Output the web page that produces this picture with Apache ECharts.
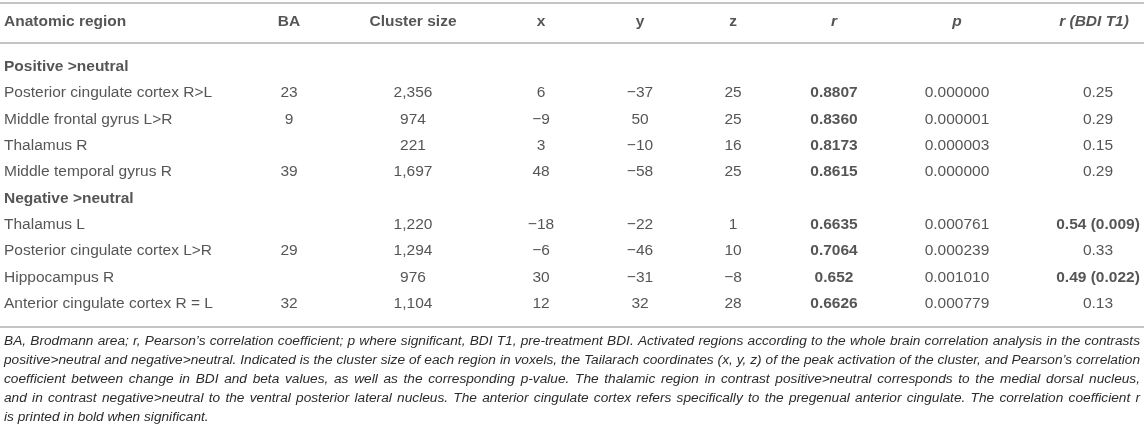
<!doctype html>
<html lang="en">
<head>
    <meta charset="UTF-8">
    <title>Whole brain correlation table</title>
    <script src="https://cdn.jsdelivr.net/npm/echarts@6/dist/echarts.min.js"></script>
    <style>
        html, body { margin: 0; padding: 0; background: #fff; }
        #main { width: 1144px; height: 432px; }
    </style>
</head>
<body>
<div id="main"></div>
<script type="text/javascript">
    // table content
    var headers = ['Anatomic region', 'BA', 'Cluster size', 'x', 'y', 'z', 'r', 'p', 'r (BDI T1)'];
    var groups = ['Positive >neutral', 'Negative >neutral'];
    var regions = [
        'Posterior cingulate cortex R>L', 'Middle frontal gyrus L>R', 'Thalamus R', 'Middle temporal gyrus R',
        'Thalamus L', 'Posterior cingulate cortex L>R', 'Hippocampus R', 'Anterior cingulate cortex R = L'
    ];
    var ba = [23, 9, null, 39, null, 29, null, 32];
    var clusterSize = [2356, 974, 221, 1697, 1220, 1294, 976, 1104];
    var xs = [6, -9, 3, 48, -18, -6, 30, 12];
    var ys = [-37, 50, -10, -58, -22, -46, -31, 32];
    var zs = [25, 25, 16, 25, 1, 10, -8, 28];
    var rValues = ['0.8807', '0.8360', '0.8173', '0.8615', '0.6635', '0.7064', '0.652', '0.6626'];
    var pValues = ['0.000000', '0.000001', '0.000003', '0.000000', '0.000761', '0.000239', '0.001010', '0.000779'];
    var rBdi = ['0.25', '0.29', '0.15', '0.29', '0.54', '0.33', '0.49', '0.13'];
    var rBdiP = [null, null, null, null, '0.009', null, '0.022', null];

    var footnote = [
        'BA, Brodmann area; r, Pearson\u2019s correlation coefficient; p where significant, BDI T1, pre-treatment BDI. Activated regions according to the whole brain correlation analysis in the contrasts',
        'positive>neutral and negative>neutral. Indicated is the cluster size of each region in voxels, the Tailarach coordinates (x, y, z) of the peak activation of the cluster, and Pearson\u2019s correlation',
        'coefficient between change in BDI and beta values, as well as the corresponding p-value. The thalamic region in contrast positive>neutral corresponds to the medial dorsal nucleus,',
        'and in contrast negative>neutral to the ventral posterior lateral nucleus. The anterior cingulate cortex refers specifically to the pregenual anterior cingulate. The correlation coefficient r',
        'is printed in bold when significant.'
    ];

    // layout: column anchors on the x axis (0..1144), alignment per column
    var colX = [4, 289, 413, 541, 640, 733, 834, 957, 1098];
    var headX = [4, 289, 413, 541, 640, 733, 834, 957, 1094];
    var colAlign = ['left', 'center', 'center', 'center', 'center', 'center', 'center', 'center', 'center'];
    // y axis runs in row units: 0 = first group label
    var headerRow = -1.71;
    var rules = [-2.43, -0.91, 9.89];

    function num(v) {
        if (v === null) return '';
        return v < 0 ? '\u2212' + Math.abs(v) : String(v);
    }

    var font = 'Liberation Sans, Arial, sans-serif';
    var cells = [];
    function cell(col, row, text, weight, style, xs) {
        cells.push({
            value: [(xs || colX)[col], row],
            label: {
                formatter: text,
                align: colAlign[col],
                fontWeight: weight || 'normal',
                fontStyle: style || 'normal'
            }
        });
    }

    headers.forEach(function (h, i) {
        cell(i, headerRow, h, 'bold', i >= 6 ? 'italic' : 'normal', headX);
    });

    var row = 0;
    regions.forEach(function (name, i) {
        if (i === 0) { cell(0, row, groups[0], 'bold'); row++; }
        if (i === 4) { cell(0, row, groups[1], 'bold'); row++; }
        cell(0, row, name);
        cell(1, row, num(ba[i]));
        cell(2, row, clusterSize[i].toLocaleString('en-US'));
        cell(3, row, num(xs[i]));
        cell(4, row, num(ys[i]));
        cell(5, row, num(zs[i]));
        cell(6, row, rValues[i], 'bold');
        cell(7, row, pValues[i]);
        if (rBdiP[i]) {
            cell(8, row, rBdi[i] + ' (' + rBdiP[i] + ')', 'bold');
        } else {
            cell(8, row, rBdi[i]);
        }
        row++;
    });

    // footnote, justified like the printed caption (last line left as is)
    var noteFont = 'italic 13.7px ' + font;
    var measure = document.createElement('canvas').getContext('2d');
    measure.font = noteFont;
    var noteLeft = 4, noteRight = 1140, noteTop = 341, noteStep = 19;
    var noteParts = [];
    footnote.forEach(function (line, i) {
        var y = noteTop + i * noteStep;
        var words = line.split(' ');
        if (i === footnote.length - 1) {
            noteParts.push({ type: 'text', x: noteLeft, y: y, silent: true,
                style: { text: line, font: noteFont, fill: '#2b2b2b', verticalAlign: 'middle' } });
            return;
        }
        var widths = words.map(function (w) { return measure.measureText(w).width; });
        var total = widths.reduce(function (a, b) { return a + b; }, 0);
        var gap = (noteRight - noteLeft - total) / (words.length - 1);
        var x = noteLeft;
        words.forEach(function (w, j) {
            noteParts.push({ type: 'text', x: x, y: y, silent: true,
                style: { text: w, font: noteFont, fill: '#2b2b2b', verticalAlign: 'middle' } });
            x += widths[j] + gap;
        });
    });

    var myChart = echarts.init(document.getElementById('main'));
    var option = {
        animation: false,
        backgroundColor: '#fff',
        grid: { left: 0, right: 0, top: 3, height: 324 },
        xAxis: { type: 'value', min: 0, max: 1144, show: false },
        yAxis: { type: 'value', min: rules[0], max: rules[2], inverse: true, show: false },
        series: [{
            type: 'scatter',
            symbolSize: 0,
            clip: false,
            silent: true,
            data: cells,
            label: {
                show: true,
                position: 'inside',
                verticalAlign: 'middle',
                color: '#2b2b2b',
                fontSize: 15.5,
                fontFamily: font
            },
            markLine: {
                silent: true,
                symbol: 'none',
                label: { show: false },
                lineStyle: { color: '#c4c4c4', width: 2, type: 'solid' },
                data: rules.map(function (v) { return { yAxis: v }; })
            }
        }],
        graphic: noteParts
    };
    myChart.setOption(option);
</script>
</body>
</html>
